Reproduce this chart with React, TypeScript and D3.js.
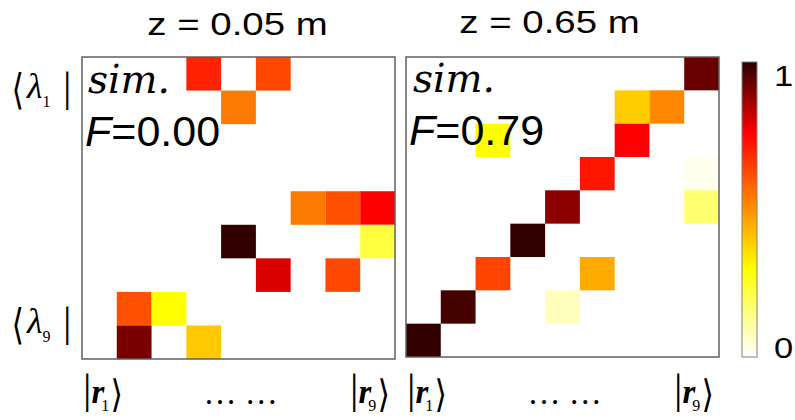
import React, { useMemo } from 'react';
import * as d3 from 'd3';

const W = 795;
const H = 420;

// panel titles and fidelity values
const panelTitles = ['z = 0.05 m', 'z = 0.65 m'];
const fidelity = [0.0, 0.79];

// basis labels (subscripts) shown on the axes
const rowLabels = ['1', '9'];
const colLabels = ['1', '9'];

// simulated overlap matrices, rows top -> bottom, columns left -> right
const matrixNear: number[][] = [
  [0, 0, 0, 0.7, 0, 0.63, 0, 0, 0],
  [0, 0, 0, 0, 0.54, 0, 0, 0, 0],
  [0, 0, 0, 0, 0, 0, 0, 0, 0],
  [0, 0, 0, 0, 0, 0, 0, 0, 0],
  [0, 0, 0, 0, 0, 0, 0.54, 0.615, 0.76],
  [0, 0, 0, 0, 0.99, 0, 0, 0, 0.225],
  [0, 0, 0, 0, 0, 0.8, 0, 0.63, 0],
  [0, 0.615, 0.3, 0, 0, 0, 0, 0, 0],
  [0, 0.91, 0, 0.4, 0, 0, 0, 0, 0],
];

const matrixFar: number[][] = [
  [0, 0, 0, 0, 0, 0, 0, 0, 0.93],
  [0, 0, 0, 0, 0, 0, 0.39, 0.515, 0],
  [0, 0, 0.3, 0, 0, 0, 0.76, 0, 0],
  [0, 0, 0, 0, 0, 0.72, 0, 0, 0.018],
  [0, 0, 0, 0, 0.89, 0, 0, 0, 0.168],
  [0, 0, 0, 0.99, 0, 0, 0, 0, 0],
  [0, 0, 0.637, 0, 0, 0.453, 0, 0, 0],
  [0, 0.97, 0, 0, 0.08, 0, 0, 0, 0],
  [0.99, 0, 0, 0, 0, 0, 0, 0, 0],
];

const colorbarTicks = [0, 1];

// reversed "hot" map: white -> yellow -> red -> dark red
const heat = d3
  .scaleLinear<string>()
  .domain([0, 0.3, 0.76, 1])
  .range(['#ffffff', '#ffff00', '#ff0000', '#2a0000'])
  .clamp(true);

const panels = [
  { data: matrixNear, x0: 82, y0: 57, w: 313, h: 302, titleDx: -1, titleY: 35, fY: 146, simY: 93 },
  { data: matrixFar, x0: 406, y0: 57, w: 313, h: 300, titleDx: -13, titleY: 33, fY: 145, simY: 92 },
];

const sans = 'Liberation Sans, Arial, sans-serif';
const serif = 'Liberation Serif, Times New Roman, serif';
const bracketFont = 'DejaVu Sans';
const BR = 40; // base font size for the stretched brackets

// ink box of a glyph, used to stretch the angle brackets to a given height
function inkBox(ch: string) {
  const ctx = document.createElement('canvas').getContext('2d');
  if (!ctx) return { asc: 0.7 * BR, desc: 0.05 * BR, left: 0, right: 0.3 * BR };
  ctx.font = `${BR}px "${bracketFont}"`;
  const m = ctx.measureText(ch);
  return {
    asc: m.actualBoundingBoxAscent,
    desc: m.actualBoundingBoxDescent,
    left: m.actualBoundingBoxLeft,
    right: m.actualBoundingBoxRight,
  };
}

// bracket glyph stretched into the box [x1,x2] x [y1,y2]
function Bracket({ ch, x1, x2, y1, y2 }: { ch: string; x1: number; x2: number; y1: number; y2: number }) {
  const b = useMemo(() => inkBox(ch), [ch]);
  const sx = (x2 - x1) / Math.max(1, b.left + b.right);
  const sy = (y2 - y1) / Math.max(1, b.asc + b.desc);
  const ox = x1 + b.left * sx;
  const oy = y1 + b.asc * sy;
  return (
    <text transform={`translate(${ox},${oy}) scale(${sx},${sy})`} fontFamily={bracketFont} fontSize={BR}>
      {ch}
    </text>
  );
}

// |r_n> label, x is the left edge of the bar, y the baseline of r
function Ket({ x, y, sub }: { x: number; y: number; sub: string }) {
  return (
    <g fill="#000">
      <text x={x} y={y} fontFamily={serif}>
        <tspan fontSize={42}>|</tspan>
        <tspan fontSize={33} fontStyle="italic" fontWeight="bold">r</tspan>
        <tspan fontSize={16} dx={-3} dy={8}>{sub}</tspan>
      </text>
      <Bracket ch="⟩" x1={x + 30} x2={x + 38} y1={y - 25} y2={y + 10} />
    </g>
  );
}

// <λ_n| label, x is the left edge of the bracket, y the baseline of λ
function Bra({ x, y, sub }: { x: number; y: number; sub: string }) {
  return (
    <g fill="#000">
      <Bracket ch="⟨" x1={x + 1} x2={x + 9} y1={y - 27} y2={y + 12} />
      <text x={x + 14} y={y} fontFamily={serif}>
        <tspan fontSize={36} fontStyle="italic">λ</tspan>
        <tspan fontSize={16} dx={0} dy={9}>{sub}</tspan>
      </text>
      <text x={x + 50} y={y + 3} fontFamily={serif} fontSize={42}>|</text>
    </g>
  );
}

function Panel({ p, idx }: { p: (typeof panels)[number]; idx: number }) {
  const n = p.data.length;
  const xs = d3.scaleBand<number>().domain(d3.range(n)).range([p.x0, p.x0 + p.w]);
  const ys = d3.scaleBand<number>().domain(d3.range(n)).range([p.y0, p.y0 + p.h]);
  const cx = p.x0 + p.w / 2;
  const cells = p.data.flatMap((row, i) => row.map((v, j) => ({ i, j, v }))).filter(d => d.v > 0);
  const ketW = 42;

  return (
    <g>
      {cells.map(d => (
        <rect
          key={`${d.i}-${d.j}`}
          x={xs(d.j)}
          y={ys(d.i)}
          width={xs.bandwidth()}
          height={ys.bandwidth()}
          fill={heat(d.v)}
        />
      ))}
      <rect x={p.x0} y={p.y0} width={p.w} height={p.h} fill="none" stroke="#606060" strokeWidth={1.5} />

      <text
        transform={`translate(${cx + p.titleDx},${p.titleY}) scale(1.2,1)`}
        textAnchor="middle"
        fontFamily={sans}
        fontSize={32}
      >
        {panelTitles[idx]}
      </text>

      <text x={p.x0 + (idx === 0 ? 6 : 7)} y={p.simY} fontFamily="DejaVu Serif, serif" fontStyle="italic" fontSize={39}>
        sim.
      </text>
      <text x={p.x0 + 3} y={p.fY} fontFamily={sans} fontSize={43}>
        <tspan fontStyle="italic">F</tspan>={fidelity[idx].toFixed(2)}
      </text>

      {/* column labels */}
      <Ket x={p.x0 + 1} y={403} sub={colLabels[0]} />
      <text x={cx + 2} y={404} textAnchor="middle" fontFamily={serif} fontSize={33}>
        … …
      </text>
      <Ket x={p.x0 + p.w - 3 - ketW} y={403} sub={colLabels[1]} />
    </g>
  );
}

export default function App() {
  const cbY = d3.scaleLinear().domain([0, 1]).range([357, 62]);
  const cbX = 742;
  const cbW = 15;
  const stops = heat.domain();
  const left = panels[0];
  const rowY = [left.y0 + 41, left.y0 + left.h - 26];

  return (
    <svg width={W} height={H} style={{ position: 'absolute', left: 0, top: 0, background: '#fff' }}>
      <defs>
        <linearGradient id="hotbar" x1="0" y1="1" x2="0" y2="0">
          {stops.map(s => (
            <stop key={s} offset={s} stopColor={heat(s)} />
          ))}
        </linearGradient>
      </defs>

      {panels.map((p, i) => (
        <Panel key={i} p={p} idx={i} />
      ))}

      {/* row labels */}
      {rowLabels.map((lab, k) => (
        <Bra key={lab} x={13} y={rowY[k]} sub={lab} />
      ))}

      {/* colorbar */}
      <rect x={cbX} y={cbY(1)} width={cbW} height={cbY(0) - cbY(1)} fill="url(#hotbar)" stroke="#808080" strokeWidth={1} />
      {colorbarTicks.map(t => (
        <text
          key={t}
          transform={`translate(774,${t === 1 ? cbY(t) + 24 : cbY(t) + 1}) scale(1.15,1)`}
          fontFamily={sans}
          fontSize={30}
        >
          {t}
        </text>
      ))}
    </svg>
  );
}
